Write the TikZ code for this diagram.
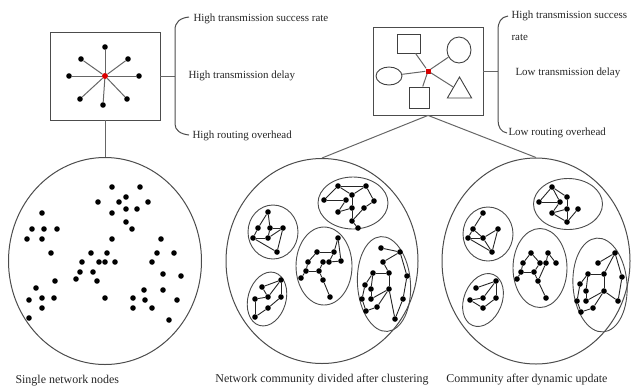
\documentclass[tikz,border=0pt]{standalone}
\usepackage{fontspec}
\setmainfont{Liberation Serif}
\usetikzlibrary{shapes.geometric, calc}

\begin{document}
\begin{tikzpicture}[x=1bp, y=-1bp,
    netdot/.style={circle, fill=black, inner sep=0pt, minimum size=5.6bp},
    hub/.style={circle, fill=red!85!black, inner sep=0pt, minimum size=6bp},
    hubsq/.style={rectangle, fill=red!85!black, inner sep=0pt, minimum size=5bp},
    spoke/.style={black!60, line width=1bp},
    link/.style={black!85, line width=0.9bp},
    frame/.style={draw=black!70, line width=0.8bp, minimum width=110bp, minimum height=88bp},
    iconshape/.style={draw=black!75, line width=0.9bp, inner sep=0pt},
    bigcirc/.style={ellipse, draw=black!70, line width=1bp, inner sep=0pt},
    community/.style={ellipse, draw=black!70, line width=0.9bp, inner sep=0pt},
    bracket/.style={draw=black!70, line width=1bp},
    capt/.style={font=\fontsize{12}{14}\selectfont, text=black!85},
    note/.style={font=\fontsize{11}{13}\selectfont, text=black!85, anchor=west},
]
\useasboundingbox (0,0) rectangle (631,390);

% ===================== LEFT BOX: STAR =====================
\node[frame] (lbox) at (105,76) {};
\node[hub] (lhub) at (105,76) {};
\foreach \n/\x/\y in {1/105/47, 2/81/59, 3/128/59, 4/69/76, 5/139/76, 6/80/99, 7/127/99, 8/103/105} {
    \node[netdot] (s\n) at (\x,\y) {};
    \draw[spoke] (lhub) -- (s\n);
}

% brace + properties
\coordinate (lbrace) at (175,76);
\draw[spoke] (lbox.east) -- (lbrace);
\draw[bracket] (189,17) .. controls (180,18) and (175,22) .. (175,30) -- (175,124)
    .. controls (175,130) and (180,134) .. (189,135);
\node[note] (lt1) at (190,19) {High transmission success rate};
\node[note] (lt2) at (185,76) {High transmission delay};
\node[note] (lt3) at (189,136) {High routing overhead};

% ===================== RIGHT BOX: COMMUNITIES =====================
\node[frame] (rbox) at (428,71) {};
\node[hubsq] (rhub) at (428,71) {};
\node[iconshape, rectangle, minimum width=23bp, minimum height=19bp] (rrect) at (408.5,43.5) {};
\node[iconshape, ellipse, minimum width=24bp, minimum height=26bp] (rcirc) at (459,50) {};
\node[iconshape, ellipse, minimum width=26bp, minimum height=18bp] (rell) at (389,76) {};
\node[iconshape, rectangle, minimum width=20bp, minimum height=21bp] (rsq) at (419,97.5) {};
\node[iconshape, regular polygon, regular polygon sides=3, minimum size=28bp] (rtri) at (459.5,91) {};
\foreach \t in {rrect, rcirc, rell, rsq, rtri}
    \draw[spoke] (rhub) -- (\t);

% brace + properties
\coordinate (rbrace) at (498,71);
\draw[spoke] (rbox.east) -- (rbrace);
\draw[bracket] (508,16) .. controls (501,17) and (498,22) .. (498,30) -- (498,120)
    .. controls (498,127) and (501,132) .. (507,133);
\node[note] (rt1) at (508,16) {High transmission success};
\node[note] (rt1b) at (508,37) {rate};
\node[note] (rt2) at (512,73) {Low transmission delay};
\node[note] (rt3) at (505,133) {Low routing overhead};

% ===================== BIG CIRCLES =====================
\node[bigcirc, minimum width=193bp, minimum height=207bp] (single) at (105,261) {};
\node[bigcirc, minimum width=192bp, minimum height=205bp] (clustered) at (322,261) {};
\node[bigcirc, minimum width=188bp, minimum height=206bp] (updated) at (536,261) {};

\draw[spoke] (lbox.south) -- (single.north);
\draw[spoke] (rbox.south) -- (clustered.north);
\draw[spoke] (rbox.south) -- (updated.north);

% ===================== SINGLE NODES =====================
\foreach [count=\i] \p in {(112,187),(140,187),(126,197),(98,202),(119,202),(148,202),
    (126,209),(137,209),(112,213),(42,213),(126,222),(132,229),(32,229),(44,229),(57,229),
    (27,239),(42,239),(112,239),(161,239),(51,253),(91,253),(107,253),(157,253),(174,253),
    (82,262),(99,262),(105,262),(115,262),(152,262),(80,272),(93,272),(163,274),(181,276),
    (55,281),(76,279),(97,281),(36,288),(144,290),(163,290),(29,300),(42,298),(54,298),
    (105,298),(133,298),(145,300),(177,300),(42,308),(133,308),(152,308),(29,318),(169,320)}
    \node[netdot] (p\i) at \p {};

% ===================== CLUSTERED COMMUNITIES =====================
\node[community, minimum width=50bp, minimum height=54bp] (ca) at (273,232) {};
\node[community, minimum width=70bp, minimum height=52bp] (cb) at (353,203) {};
\node[community, minimum width=56bp, minimum height=78bp] (cc) at (324,266) {};
\node[community, minimum width=38bp, minimum height=55bp, rotate=-16] (cd) at (267,299) {};
\node[community, minimum width=53bp, minimum height=95bp, rotate=4] (ce) at (384,284) {};

\foreach \n/\x/\y in {a1/268/212, a2/258/228, a3/270/228, a4/283/228, a5/253/238, a6/268/238, a7/277/252,
    b1/338/186, b2/366/186, b3/324/200, b4/346/200, b5/352/195, b6/374/201, b7/352/208,
    b8/338/212, b9/364/208, b10/352/221, b11/358/228,
    c1/338/238, c2/317/252, c3/334/252, c4/308/262, c5/323/262, c6/329/262, c7/341/261,
    c8/306/271, c9/319/271, c11/301/278, c12/323/280, c13/330/297,
    d1/281/280, d2/262/287, d3/255/299, d4/268/297, d5/281/297, d6/268/308, d7/255/317,
    e1/381/248, e2/400/252, e3/383/262, e4/373/273, e5/389/273, e6/407/276, e7/365/285,
    e8/371/289, e9/389/289, e10/362/299, e11/371/299, e12/403/299, e13/366/311, e14/377/307, e15/395/319}
    \node[netdot] (\n) at (\x,\y) {};

\foreach \u/\v in {a1/a2, a1/a3, a3/a4, a2/a5, a3/a6, a5/a6, a5/a7, a6/a4, a4/a7,
    b1/b2, b1/b3, b1/b5, b2/b5, b2/b6, b3/b4, b4/b8, b5/b7, b7/b8, b7/b10, b6/b9, b9/b10, b10/b11,
    c1/c3, c1/c7, c2/c3, c2/c4, c3/c6, c4/c8, c8/c11, c8/c9, c9/c5, c5/c6, c6/c7, c9/c12, c12/c13,
    d1/d2, d1/d4, d1/d5, d2/d4, d3/d4, d3/d7, d6/d7, d5/d6,
    e1/e2, e2/e3, e2/e6, e3/e5, e4/e5, e4/e7, e4/e8, e5/e9, e7/e10, e8/e11, e9/e11, e9/e14,
    e9/e15, e6/e12, e12/e15, e10/e13, e13/e14}
    \draw[link] (\u) -- (\v);

% ===================== UPDATED COMMUNITIES =====================
\node[community, minimum width=50bp, minimum height=54bp] (uf) at (488,234) {};
\node[community, minimum width=69bp, minimum height=51bp] (ug) at (568,204) {};
\node[community, minimum width=38bp, minimum height=55bp, rotate=-22] (uh) at (483,300) {};
\node[community, minimum width=54bp, minimum height=79bp] (ui) at (540,268) {};
\node[community, minimum width=54bp, minimum height=94bp, rotate=4] (uj) at (600,285) {};

\foreach \n/\x/\y in {f1/483/213, f2/473/229, f3/498/229, f4/468/238, f5/483/238, f6/492/252,
    g1/552/187, g2/539/202, g3/560/202, g4/567/197, g5/567/209, g6/578/209, g7/552/213, g8/567/222,
    h1/496/281, h2/476/288, h3/470/300, h4/483/298, h5/496/298, h6/483/308,
    i1/531/253, i2/548/253, i3/523/263, i4/540/263, i5/546/263, i6/556/263, i7/521/272,
    i8/534/272, i9/517/279, i10/538/281, i11/546/298,
    j1/615/253, j2/598/263, j3/588/274, j4/604/274, j5/622/277, j6/580/284, j7/586/291,
    j8/604/291, j9/577/301, j10/586/301, j11/618/301, j12/581/312, j13/593/308}
    \node[netdot] (\n) at (\x,\y) {};

\foreach \u/\v in {f1/f2, f2/f4, f2/f5, f4/f5, f4/f6, f5/f3, f3/f6, f5/f6,
    g1/g2, g1/g3, g1/g4, g2/g3, g3/g7, g4/g5, g7/g5, g5/g8, g7/g8, g6/g8,
    h1/h2, h1/h4, h1/h5, h3/h4, h3/h6, h5/h6,
    i1/i3, i1/i4, i3/i7, i7/i8, i8/i4, i4/i5, i5/i2, i2/i6, i7/i9, i8/i10, i10/i11, i5/i10,
    j1/j2, j1/j4, j1/j5, j3/j4, j3/j6, j3/j7, j4/j8, j5/j11, j6/j9, j7/j10, j8/j10, j8/j11,
    j9/j12, j12/j13, j13/j8}
    \draw[link] (\u) -- (\v);

% ===================== CAPTIONS =====================
\node[capt, anchor=west] (cap1) at (12,381) {Single network nodes};
\node[capt] (cap2) at (322,380) {Network community divided after clustering};
\node[capt] (cap3) at (527,380) {Community after dynamic update};

\end{tikzpicture}
\end{document}
